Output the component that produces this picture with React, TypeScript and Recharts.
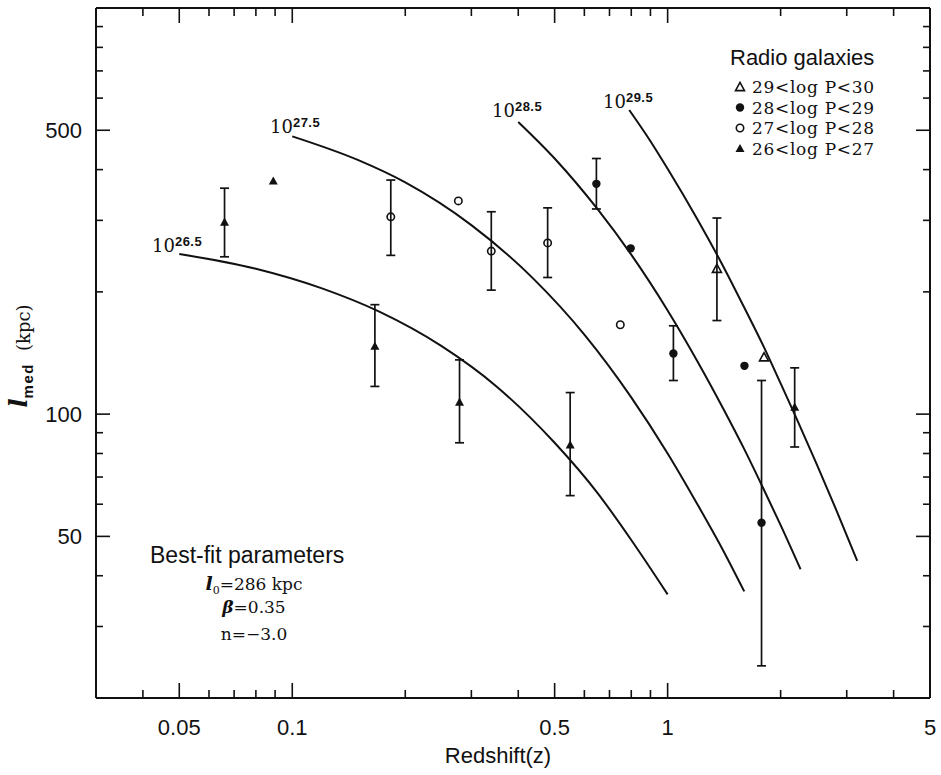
import { ComposedChart, Line, Scatter, ErrorBar, XAxis, YAxis } from 'recharts';

// model curves (z, l_med in kpc)
const curve265 = [
  { z: 0.05, l: 248 }, { z: 0.08, l: 228 }, { z: 0.12, l: 204 }, { z: 0.17, l: 179 },
  { z: 0.25, l: 147 }, { z: 0.35, l: 117 }, { z: 0.5, l: 85 }, { z: 0.65, l: 64 },
  { z: 0.8, l: 49 }, { z: 1.0, l: 36 },
];
const curve275 = [
  { z: 0.1, l: 483 }, { z: 0.15, l: 422 }, { z: 0.2, l: 372 }, { z: 0.3, l: 292 },
  { z: 0.44, l: 215 }, { z: 0.6, l: 157 }, { z: 0.8, l: 110 }, { z: 1.0, l: 80 },
  { z: 1.2, l: 60 }, { z: 1.4, l: 46.5 }, { z: 1.6, l: 36.6 },
];
const curve285 = [
  { z: 0.4, l: 524 }, { z: 0.5, l: 426 }, { z: 0.65, l: 320 }, { z: 0.8, l: 247 },
  { z: 1.0, l: 180 }, { z: 1.2, l: 135 }, { z: 1.4, l: 104 }, { z: 1.6, l: 82 },
  { z: 1.8, l: 65.5 }, { z: 2.0, l: 53.3 }, { z: 2.26, l: 41.5 },
];
const curve295 = [
  { z: 0.79, l: 561 }, { z: 0.9, l: 470 }, { z: 1.0, l: 402 }, { z: 1.2, l: 302 },
  { z: 1.4, l: 233 }, { z: 1.6, l: 183 }, { z: 1.8, l: 147 }, { z: 2.0, l: 119 },
  { z: 2.2, l: 98 }, { z: 2.5, l: 75 }, { z: 2.8, l: 58.7 }, { z: 3.2, l: 43.5 },
];

// radio galaxies, err = [below, above]
const p26Bars = [
  { z: 0.066, l: 297, err: [53, 63] },
  { z: 0.166, l: 147, err: [30, 39] },
  { z: 0.279, l: 107, err: [22, 29] },
  { z: 0.55, l: 84, err: [21, 29] },
  { z: 2.18, l: 104, err: [21, 26] },
];
const p26 = [{ z: 0.089, l: 375 }];
const p27Bars = [
  { z: 0.183, l: 306, err: [60, 71] },
  { z: 0.339, l: 252, err: [50, 63] },
  { z: 0.479, l: 264, err: [47, 58] },
];
const p27 = [{ z: 0.277, l: 335 }, { z: 0.748, l: 166 }];
const p28Bars = [
  { z: 0.646, l: 369, err: [49, 57] },
  { z: 1.036, l: 141, err: [20, 24] },
  { z: 1.779, l: 54, err: [30, 67] },
];
const p28 = [{ z: 0.797, l: 256 }, { z: 1.602, l: 131.5 }];
const p29Bars = [{ z: 1.353, l: 228, err: [58, 76] }];
const p29 = [{ z: 1.806, l: 138 }];

const X_MAJOR = [0.05, 0.1, 0.5, 1, 5];
const X_MINOR = [0.04, 0.06, 0.07, 0.08, 0.09, 0.2, 0.3, 0.4, 0.6, 0.7, 0.8, 0.9, 2, 3, 4];
const Y_MAJOR = [50, 100, 500];
const Y_MINOR = [30, 40, 60, 70, 80, 90, 200, 300, 400, 600, 700, 800, 900];
const LEGEND = ['29<log P<30', '28<log P<29', '27<log P<28', '26<log P<27'];

const X_DOMAIN = [0.03, 5];
const Y_DOMAIN = [20, 1000];
const SANS = '"Liberation Sans", Arial, Helvetica, sans-serif';
const SERIF = '"DejaVu Serif", serif';
const INK = '#111';

// plot frame inside the 941x775 surface
const LEFT = 96;
const RIGHT = 930;
const TOP = 8;

const xTicks = [...X_MAJOR, ...X_MINOR].sort((a, b) => a - b);
const yTicks = [...Y_MAJOR, ...Y_MINOR].sort((a, b) => a - b);

function BottomTick({ x, y, payload }: any) {
  const major = X_MAJOR.includes(payload.value);
  return (
    <g>
      <line x1={x} y1={y} x2={x} y2={y - (major ? 15 : 8)} stroke={INK} strokeWidth={1.6} />
      {major && (
        <text x={x} y={y + 37} textAnchor="middle" fontFamily={SANS} fontSize={22} fill={INK}>
          {payload.value}
        </text>
      )}
    </g>
  );
}

function LeftTick({ x, y, payload }: any) {
  const major = Y_MAJOR.includes(payload.value);
  return (
    <g>
      <line x1={x} y1={y} x2={x + (major ? 14 : 7)} y2={y} stroke={INK} strokeWidth={1.6} />
      {major && (
        <text x={x - 14} y={y + 8} textAnchor="end" fontFamily={SANS} fontSize={22} fill={INK}>
          {payload.value}
        </text>
      )}
    </g>
  );
}

function RightTick({ x, y, payload }: any) {
  const major = Y_MAJOR.includes(payload.value);
  return <line x1={x} y1={y} x2={x - (major ? 14 : 7)} y2={y} stroke={INK} strokeWidth={1.6} />;
}

const FilledTri = ({ cx, cy }: any) => (
  <path d={`M${cx},${cy - 4.6} L${cx + 4.5},${cy + 3.6} L${cx - 4.5},${cy + 3.6} Z`} fill={INK} />
);
const OpenTri = ({ cx, cy }: any) => (
  <path d={`M${cx},${cy - 4.6} L${cx + 4.5},${cy + 3.6} L${cx - 4.5},${cy + 3.6} Z`} fill="none" stroke={INK} strokeWidth={1.6} />
);
const FilledDot = ({ cx, cy }: any) => <circle cx={cx} cy={cy} r={4.2} fill={INK} />;
const OpenDot = ({ cx, cy }: any) => <circle cx={cx} cy={cy} r={3.7} fill="none" stroke={INK} strokeWidth={1.6} />;

const legendShapes = [OpenTri, FilledDot, OpenDot, FilledTri];

function bar() {
  return <ErrorBar dataKey="err" direction="y" width={4.5} stroke={INK} strokeWidth={1.7} />;
}

function Power({ x, y, exp }: { x: number; y: number; exp: string }) {
  return (
    <text x={x} y={y} fontFamily={SERIF} fontSize={18} fill={INK}>
      10
      <tspan dy={-6} fontFamily={SANS} fontWeight="bold" fontSize={13} letterSpacing={0.5}>
        {exp}
      </tspan>
    </text>
  );
}

// ticks on the top frame, same log mapping as the x axis
function topTickX(v: number) {
  const span = Math.log(X_DOMAIN[1] / X_DOMAIN[0]);
  return LEFT + ((RIGHT - LEFT) * Math.log(v / X_DOMAIN[0])) / span;
}

function Annotations() {
  return (
    <svg width={941} height={775} style={{ position: 'absolute', left: 0, top: 0, zIndex: 2, pointerEvents: 'none' }}>
      {xTicks.map((v) => {
        const x = topTickX(v);
        return <line key={v} x1={x} y1={TOP} x2={x} y2={TOP + (X_MAJOR.includes(v) ? 15 : 8)} stroke={INK} strokeWidth={1.6} />;
      })}

      <text x={498} y={763} textAnchor="middle" fontFamily={SANS} fontSize={22} fill={INK}>
        Redshift(z)
      </text>
      <text transform="translate(27,356) rotate(-90)" textAnchor="middle" fill={INK}>
        <tspan fontFamily={SERIF} fontStyle="italic" fontWeight="bold" fontSize={24}>l</tspan>
        <tspan fontFamily={SANS} fontWeight="bold" fontSize={15} dy={6} letterSpacing={1.5}>med</tspan>
        <tspan fontFamily={SERIF} fontSize={18} dy={-3} dx={12}>(kpc)</tspan>
      </text>

      <Power x={152} y={252} exp="26.5" />
      <Power x={270} y={133} exp="27.5" />
      <Power x={492} y={117} exp="28.5" />
      <Power x={603} y={108} exp="29.5" />

      <text x={730} y={65} fontFamily={SANS} fontSize={22} fill={INK}>Radio galaxies</text>
      {LEGEND.map((label, i) => {
        const Shape = legendShapes[i];
        const cy = 87 + i * 20.5;
        return (
          <g key={label}>
            <Shape cx={740} cy={cy} />
            <text x={752} y={cy + 6} fontFamily={SERIF} fontSize={17} letterSpacing={0.7} fill={INK}>{label}</text>
          </g>
        );
      })}

      <text x={150} y={563} fontFamily={SANS} fontSize={23} fill={INK}>Best-fit parameters</text>
      <text x={254} y={590} textAnchor="middle" fontFamily={SERIF} fontSize={17} fill={INK}>
        <tspan fontStyle="italic" fontWeight="bold" fontSize={19}>l</tspan>
        <tspan fontSize={11} dy={4}>0</tspan>
        <tspan dy={-4}>=286 kpc</tspan>
      </text>
      <text x={254} y={613} textAnchor="middle" fontFamily={SERIF} fontSize={17} fill={INK}>
        <tspan fontStyle="italic" fontWeight="bold">β</tspan>=0.35
      </text>
      <text x={254} y={640} textAnchor="middle" fontFamily={SERIF} fontSize={17} fill={INK}>
        n=−3.0
      </text>
    </svg>
  );
}

export default function App() {
  const lineProps = { dataKey: 'l', type: 'monotone' as const, stroke: INK, strokeWidth: 2, dot: false, isAnimationActive: false };
  return (
    <div style={{ position: 'absolute', left: 0, top: 0, width: 941, height: 775, background: '#fff' }}>
      <div style={{ position: 'absolute', left: 0, top: 0, zIndex: 1 }}>
        <ComposedChart width={941} height={775} margin={{ top: 0, right: 0, bottom: 0, left: 0 }}>
          <XAxis
            dataKey="z"
            type="number"
            scale="log"
            domain={X_DOMAIN}
            allowDataOverflow
            ticks={xTicks}
            interval={0}
            tickLine={false}
            tickSize={0}
            tickMargin={0}
            tick={BottomTick}
            axisLine={{ stroke: INK, strokeWidth: 2 }}
            height={77}
          />
          <XAxis
            xAxisId="top"
            orientation="top"
            type="number"
            scale="log"
            domain={X_DOMAIN}
            allowDataOverflow
            tick={false}
            tickLine={false}
            axisLine={{ stroke: INK, strokeWidth: 2 }}
            height={TOP}
          />
          <YAxis
            dataKey="l"
            type="number"
            scale="log"
            domain={Y_DOMAIN}
            allowDataOverflow
            ticks={yTicks}
            interval={0}
            tickLine={false}
            tickSize={0}
            tickMargin={0}
            tick={LeftTick}
            axisLine={{ stroke: INK, strokeWidth: 2 }}
            width={LEFT}
          />
          <YAxis
            yAxisId="right"
            orientation="right"
            type="number"
            scale="log"
            domain={Y_DOMAIN}
            allowDataOverflow
            ticks={yTicks}
            interval={0}
            tickLine={false}
            tickSize={0}
            tickMargin={0}
            tick={RightTick}
            axisLine={{ stroke: INK, strokeWidth: 2 }}
            width={941 - RIGHT}
          />
          <Line data={curve265} {...lineProps} />
          <Line data={curve275} {...lineProps} />
          <Line data={curve285} {...lineProps} />
          <Line data={curve295} {...lineProps} />
          <Scatter data={p26Bars} dataKey="l" shape={FilledTri} isAnimationActive={false}>{bar()}</Scatter>
          <Scatter data={p26} dataKey="l" shape={FilledTri} isAnimationActive={false} />
          <Scatter data={p27Bars} dataKey="l" shape={OpenDot} isAnimationActive={false}>{bar()}</Scatter>
          <Scatter data={p27} dataKey="l" shape={OpenDot} isAnimationActive={false} />
          <Scatter data={p28Bars} dataKey="l" shape={FilledDot} isAnimationActive={false}>{bar()}</Scatter>
          <Scatter data={p28} dataKey="l" shape={FilledDot} isAnimationActive={false} />
          <Scatter data={p29Bars} dataKey="l" shape={OpenTri} isAnimationActive={false}>{bar()}</Scatter>
          <Scatter data={p29} dataKey="l" shape={OpenTri} isAnimationActive={false} />
        </ComposedChart>
      </div>
      <Annotations />
    </div>
  );
}
